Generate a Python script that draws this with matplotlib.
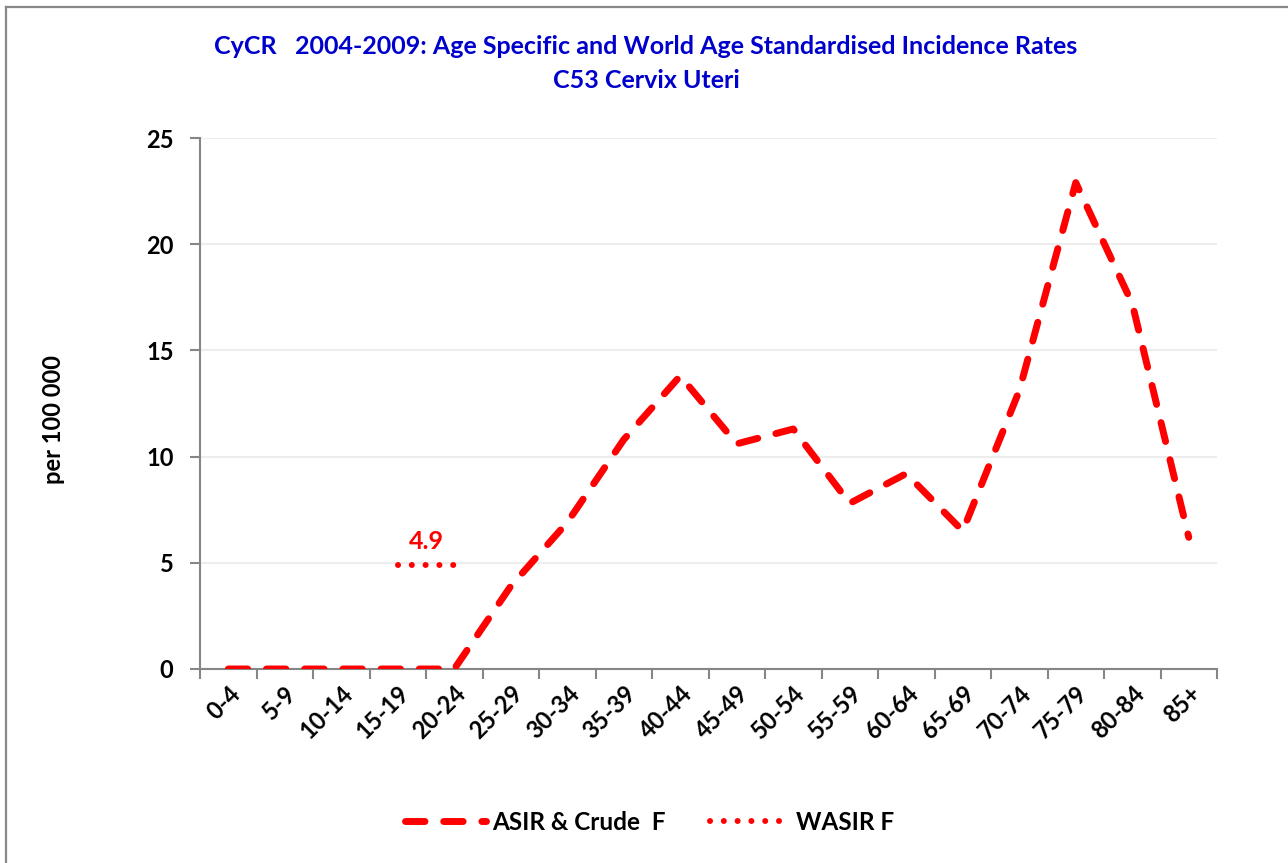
import numpy as np, matplotlib
matplotlib.use('Agg')
import matplotlib.pyplot as plt
from matplotlib.lines import Line2D

plt.rcParams['font.family'] = ['Lato', 'DejaVu Sans']
plt.rcParams['font.weight'] = 'bold'

age_groups = ['0-4', '5-9', '10-14', '15-19', '20-24', '25-29', '30-34', '35-39', '40-44',
              '45-49', '50-54', '55-59', '60-64', '65-69', '70-74', '75-79', '80-84', '85+']
asir = [0, 0, 0, 0, 0, 3.9, 6.9, 10.8, 13.8, 10.6, 11.3, 7.8, 9.2, 6.5, 13.1, 22.9, 17.2, 6.2]
wasir = 4.9
wasir_span = ['15-19', '20-24']

RED = '#FF0000'
BLUE = '#0000CC'
AXIS = '#868686'
GRID = '#EDEDED'

W, H = 1288, 863
fig = plt.figure(figsize=(W / 100, H / 100), dpi=100)
ax = fig.add_axes([200 / W, 1 - 669 / H, 1017 / W, 531 / H])

x = np.arange(len(age_groups))
ax.plot(x, asir, color=RED, lw=5, dashes=(2.8, 2.7), dash_capstyle='round',
        solid_capstyle='round', label='ASIR & Crude  F', zorder=3)
wx = [age_groups.index(a) for a in wasir_span]
ax.plot(wx, [wasir, wasir], color=RED, lw=4.3, dashes=(0.01, 2.3), dash_capstyle='round',
        label='WASIR F', zorder=3)
ax.text(np.mean(wx), wasir + 0.55, f'{wasir:.1f}', color=RED, fontsize=18, fontweight='bold',
        ha='center', va='bottom')

ax.set_xlim(-0.5, len(age_groups) - 0.5)
ax.set_ylim(0, 25)
ax.set_yticks(np.arange(0, 26, 5))
ax.yaxis.grid(True, color=GRID, lw=1.6)
ax.set_axisbelow(True)

ax.set_xticks(np.arange(-0.5, len(age_groups), 1.0))
ax.set_xticklabels([])
ax.set_xticks(x, minor=True)
ax.set_xticklabels(age_groups, minor=True, rotation=45, ha='right', va='top',
                   rotation_mode='anchor', fontsize=17, fontweight='bold')
ax.tick_params(axis='x', which='minor', length=0, pad=9)
ax.tick_params(axis='x', which='major', length=7, width=1.5, color=AXIS, direction='out')
ax.tick_params(axis='y', length=7, width=1.5, color=AXIS, labelsize=17, pad=12)
for t in ax.get_yticklabels():
    t.set_fontweight('bold')

for s in ['top', 'right']:
    ax.spines[s].set_visible(False)
for s in ['left', 'bottom']:
    ax.spines[s].set_color(AXIS)
    ax.spines[s].set_linewidth(1.5)

ax.set_ylabel('per 100 000', fontsize=17, fontweight='bold')
ax.yaxis.set_label_coords(-0.133, 0.469)

fig.text(646 / W, 1 - 46 / H,
         'CyCR   2004-2009: Age Specific and World Age Standardised Incidence Rates',
         color=BLUE, fontsize=18, fontweight='bold', ha='center', va='center')
fig.text(646 / W, 1 - 80 / H, 'C53 Cervix Uteri', color=BLUE, fontsize=18,
         fontweight='bold', ha='center', va='center')

leg = fig.legend(loc='center', bbox_to_anchor=(650 / W, 1 - 822 / H), ncol=2, frameon=False,
                 fontsize=17.5, handlelength=3.3, columnspacing=1.85, handletextpad=0.25)
for t in leg.get_texts():
    t.set_fontweight('bold')

fig.add_artist(Line2D([6 / W, 6 / W], [0, 1 - 7 / H], transform=fig.transFigure,
                      color='#888888', lw=1.6))
fig.add_artist(Line2D([6 / W, 1], [1 - 7 / H, 1 - 7 / H], transform=fig.transFigure,
                      color='#888888', lw=1.6))

fig.savefig('out.png', dpi=100)
print('ok')
